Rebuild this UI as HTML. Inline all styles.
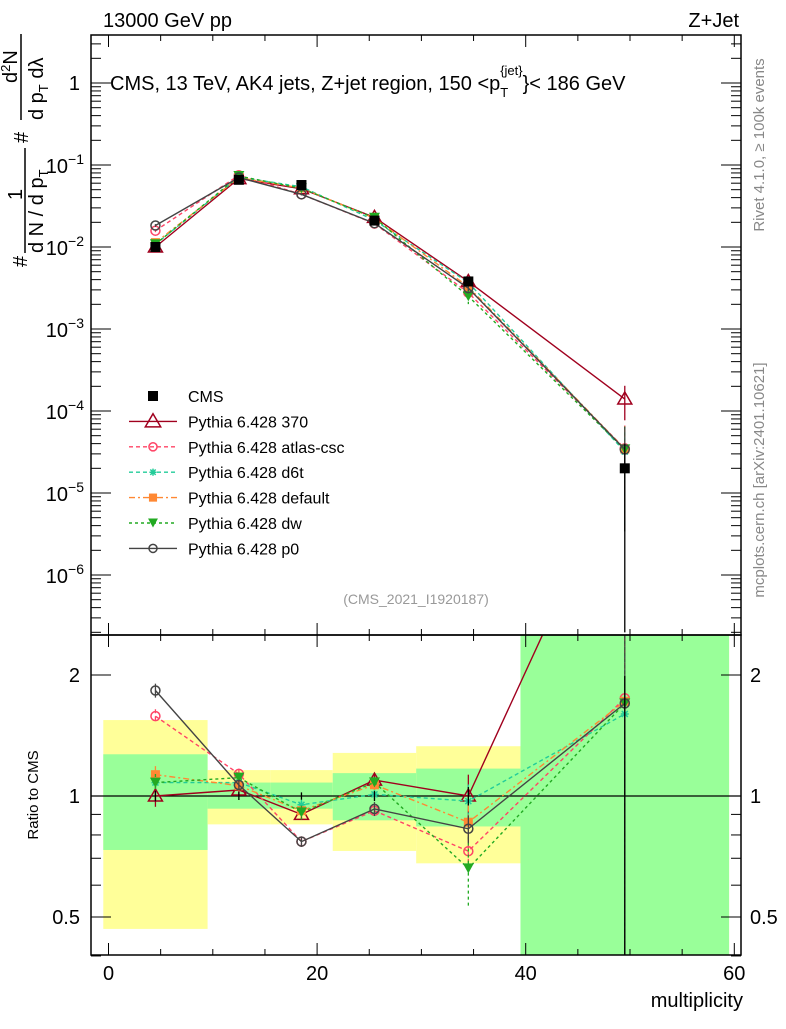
<!DOCTYPE html>
<html><head><meta charset="utf-8"><style>
html,body{margin:0;padding:0;background:#fff;}
svg text{font-family:"Liberation Sans",sans-serif;}
</style></head><body>
<svg id="chart" width="786" height="1024" viewBox="0 0 786 1024" xmlns="http://www.w3.org/2000/svg">
<rect width="786" height="1024" fill="#fff"/>
<g id="bands"></g><g id="grid"></g><g id="series"></g><g id="frames"></g><g id="labels"></g>
</svg>
<script>
const binEdges=[-0.5,9.5,15.5,21.5,29.5,39.5,59.5];
const xCenters=[4.5,12.5,18.5,25.5,34.5,49.5];
const cmsValues=[0.0100,0.066,0.057,0.021,0.0038,2.0e-5];
const cmsErrors=[0.0003,0.0015,0.0012,0.0006,0.0002,1.98e-5];
const band1Hi=[1.27,1.08,1.08,1.14,1.17,3];
const band1Lo=[0.734,0.93,0.93,0.87,0.84,0.3];
const band2Hi=[1.545,1.16,1.16,1.28,1.33,3];
const band2Lo=[0.467,0.85,0.85,0.73,0.68,0.3];
const vals370=[0.0100,0.0683,0.0513,0.0230,0.0038,1.4e-4];
const valsAtlas=[0.0158,0.0749,0.0439,0.0193,0.00277,3.5e-5];
const valsD6t=[0.0108,0.0713,0.0542,0.0212,0.00369,3.2e-5];
const valsDefault=[0.0113,0.070,0.0524,0.0224,0.00327,3.44e-5];
const valsDw=[0.0108,0.0733,0.0519,0.0227,0.00251,3.4e-5];
const valsP0=[0.0183,0.0703,0.0439,0.0195,0.00315,3.4e-5];
const relErr370=[0.06,0.03,0.03,0.04,0.13,0.45];
const relErrAtlas=[0.04,0.03,0.03,0.03,0.08,0.9];
const relErrD6t=[0.04,0.03,0.03,0.03,0.1,0.9];
const relErrDefault=[0.05,0.03,0.03,0.03,0.1,0.9];
const relErrDw=[0.05,0.03,0.04,0.03,0.2,0.9];
const relErrP0=[0.04,0.03,0.03,0.04,0.08,0.9];
const xTicks=[0,20,40,60];
const mainTickExp=[0,-1,-2,-3,-4,-5,-6];
const ratioTicks=[2,1,0.5];
const ratioTickLabels=["2","1","0.5"];

const NS="http://www.w3.org/2000/svg";
const L=91,R=741,T=35,MB=635,RB=955;
const X=v=>108.5+v*10.43;
const Y=v=>83-82*Math.log10(v);
const YR=r=>796-121*Math.log2(r);
function mk(tag,attrs,parent,txt){const e=document.createElementNS(NS,tag);for(const k in attrs)e.setAttribute(k,attrs[k]);if(txt!==undefined)e.textContent=txt;document.getElementById(parent).appendChild(e);return e;}
const clampM=y=>Math.max(T,Math.min(MB,y));
const clampR=y=>Math.max(MB,Math.min(RB,y));

for(let i=0;i<6;i++){
  let r=mk('rect',{x:X(binEdges[i]),y:clampR(YR(band2Hi[i])),width:X(binEdges[i+1])-X(binEdges[i]),height:clampR(YR(band2Lo[i]))-clampR(YR(band2Hi[i])),fill:'#ffff99'},'bands');
  
  
  let g=mk('rect',{x:X(binEdges[i]),y:clampR(YR(band1Hi[i])),width:X(binEdges[i+1])-X(binEdges[i]),height:clampR(YR(band1Lo[i]))-clampR(YR(band1Hi[i])),fill:'#99ff99'},'bands');
  
  
}
mk('line',{x1:L,x2:R,y1:YR(1),y2:YR(1),stroke:'#000','stroke-width':1.3},'grid');

const series=[
 {name:'pythia-370',vals:vals370,err:relErr370,color:'#a0001e',dash:'',marker:'tri-open'},
 {name:'pythia-atlas-csc',vals:valsAtlas,err:relErrAtlas,color:'#ff4466',dash:'4,3',marker:'circ-open'},
 {name:'pythia-d6t',vals:valsD6t,err:relErrD6t,color:'#22cc99',dash:'4,3',marker:'star'},
 {name:'pythia-default',vals:valsDefault,err:relErrDefault,color:'#ff8833',dash:'6,3,2,3',marker:'square'},
 {name:'pythia-dw',vals:valsDw,err:relErrDw,color:'#22aa22',dash:'3,3',marker:'tri-down'},
 {name:'pythia-p0',vals:valsP0,err:relErrP0,color:'#444444',dash:'',marker:'circ-open'}
];
function marker(type,x,y,c,parent,s){
  s=s||1;let e;
  if(type==='tri-open')e=mk('path',{d:`M${x},${y-7*s}L${x+7*s},${y+5*s}L${x-7*s},${y+5*s}Z`,fill:'none',stroke:c,'stroke-width':1.5},parent);
  else if(type==='circ-open')e=mk('circle',{cx:x,cy:y,r:4.5*s,fill:'none',stroke:c,'stroke-width':1.5},parent);
  else if(type==='square')e=mk('rect',{x:x-4.5*s,y:y-4.5*s,width:9*s,height:9*s,fill:c},parent);
  else if(type==='tri-down')e=mk('path',{d:`M${x-5.5*s},${y-5*s}L${x+5.5*s},${y-5*s}L${x},${y+5*s}Z`,fill:c},parent);
  else if(type==='star')e=mk('path',{d:`M${x-4*s},${y}H${x+4*s}M${x},${y-4*s}V${y+4*s}M${x-3*s},${y-3*s}L${x+3*s},${y+3*s}M${x-3*s},${y+3*s}L${x+3*s},${y-3*s}`,stroke:c,'stroke-width':1.5},parent);
  return e;
}
series.forEach(s=>{
  const pm=s.vals.map((v,i)=>[X(xCenters[i]),Y(v)]);
  let p=mk('polyline',{points:pm.map(q=>q.join(',')).join(' '),fill:'none',stroke:s.color,'stroke-width':1.4,'stroke-dasharray':s.dash,'clip-path':'url(#clipMain)'},'series');
  
  
  const pr=s.vals.map((v,i)=>[X(xCenters[i]),YR(v/cmsValues[i])]);
  let p2=mk('polyline',{points:pr.map(q=>q.join(',')).join(' '),fill:'none',stroke:s.color,'stroke-width':1.4,'stroke-dasharray':s.dash,'clip-path':'url(#clipRatio)'},'series');
  
  
  s.vals.forEach((v,i)=>{
    const x=X(xCenters[i]);const e=s.err[i];
    const r=v/cmsValues[i];
    mk('line',{x1:x,x2:x,y1:clampM(Y(v*(1+e))),y2:clampM(Y(Math.max(v*(1-e),1e-9))),stroke:s.color,'stroke-width':1.3,'stroke-dasharray':s.dash},'series');
    mk('line',{x1:x,x2:x,y1:clampR(YR(r*(1+e))),y2:clampR(YR(Math.max(r*(1-e),1e-9))),stroke:s.color,'stroke-width':1.3,'stroke-dasharray':s.dash},'series');
    let m=marker(s.marker,x,Y(v),s.color,'series');
    
    
    if(YR(r)>MB){let m2=marker(s.marker,x,YR(r),s.color,'series');
    
    }
  });
});
cmsValues.forEach((v,i)=>{
  const x=X(xCenters[i]);
  mk('line',{x1:x,x2:x,y1:clampM(Y(v+cmsErrors[i])),y2:clampM(Y(Math.max(v-cmsErrors[i],1e-12))),stroke:'#000','stroke-width':1.3},'series');
  const rl=(v-cmsErrors[i])/v, rh=(v+cmsErrors[i])/v;
  mk('line',{x1:x,x2:x,y1:clampR(YR(rh)),y2:clampR(YR(Math.max(rl,1e-9))),stroke:'#000','stroke-width':1.3},'series');
  let m=mk('rect',{x:x-5,y:Y(v)-5,width:10,height:10,fill:'#000'},'series');
  
  
});
const defs=document.createElementNS(NS,'defs');
defs.innerHTML=`<clipPath id="clipMain"><rect x="${L}" y="${T}" width="${R-L}" height="${MB-T}"/></clipPath><clipPath id="clipRatio"><rect x="${L}" y="${MB}" width="${R-L}" height="${RB-MB}"/></clipPath>`;
document.getElementById('chart').prepend(defs);

let f1=mk('rect',{x:L,y:T,width:R-L,height:MB-T,fill:'none',stroke:'#000','stroke-width':1.5},'frames');


let f2=mk('rect',{x:L,y:MB,width:R-L,height:RB-MB,fill:'none',stroke:'#000','stroke-width':1.5},'frames');


for(let v=0;v<=60;v+=5){
  const len=(v%20===0)?12:6;const x=X(v);
  [[T,1],[MB,-1],[MB,1],[RB,-1]].forEach(([y0,d])=>mk('line',{x1:x,x2:x,y1:y0,y2:y0+d*len,stroke:'#000','stroke-width':1},'frames'));
}
for(let e=1;e>=-7;e--){
  for(let k=1;k<10;k++){
    const v=k*Math.pow(10,e);const y=Y(v);if(y<T||y>MB)continue;
    const len=k===1?20:10;
    mk('line',{x1:L,x2:L+len,y1:y,y2:y,stroke:'#000','stroke-width':1},'frames');
    mk('line',{x1:R,x2:R-len,y1:y,y2:y,stroke:'#000','stroke-width':1},'frames');
  }
}
[0.4,0.5,0.6,0.7,0.8,0.9,1,2].forEach(v=>{const y=YR(v);const len=(v===1||v===2||v===0.5)?20:10;
 mk('line',{x1:L,x2:L+len,y1:y,y2:y,stroke:'#000','stroke-width':1},'frames');
 mk('line',{x1:R,x2:R-len,y1:y,y2:y,stroke:'#000','stroke-width':1},'frames');});

xTicks.forEach(v=>{let t=mk('text',{x:X(v),y:980,'font-size':20,'text-anchor':'middle'},'labels',String(v));
 });
mainTickExp.forEach(e=>{const y=Y(Math.pow(10,e));
 let t;
 if(e===0)t=mk('text',{x:80,y:y+7,'font-size':20,'text-anchor':'end'},'labels','1');
 else{t=mk('text',{x:84,y:y+8,'font-size':20,'text-anchor':'end'},'labels');
  t.innerHTML=`10<tspan dy="-9" font-size="14">${e===-1?'\u22121':'\u2212'+(-e)}</tspan>`;}
 });
ratioTicks.forEach((v,i)=>{const y=YR(v)+7;
 let t=mk('text',{x:80,y:y,'font-size':20,'text-anchor':'end'},'labels',ratioTickLabels[i]);
 
 let t2=mk('text',{x:750,y:y,'font-size':20},'labels',ratioTickLabels[i]);
 });

const legendNames=['CMS','Pythia 6.428 370','Pythia 6.428 atlas-csc','Pythia 6.428 d6t','Pythia 6.428 default','Pythia 6.428 dw','Pythia 6.428 p0'];
legendNames.forEach((n,i)=>{const y=396+i*25.4;
  if(i===0){let m=mk('rect',{x:148,y:y-5,width:10,height:10,fill:'#000'},'labels');}
  else{const s=series[i-1];
    mk('line',{x1:129,x2:177,y1:y,y2:y,stroke:s.color,'stroke-width':1.4,'stroke-dasharray':s.dash},'labels');
    let m=marker(s.marker,153,y,s.color,'labels',i===1?1.1:0.9);
    }
  let t=mk('text',{x:188,y:y+6,'font-size':16},'labels',n);
  
});
</script>
<svg style="position:absolute;left:0;top:0" width="786" height="1024">
<text x="103" y="27" font-size="20" font-family="Liberation Sans,sans-serif">13000 GeV pp</text>
<text x="739" y="27" font-size="20" text-anchor="end" font-family="Liberation Sans,sans-serif">Z+Jet</text>
<text x="110" y="90" font-size="20" font-family="Liberation Sans,sans-serif">CMS, 13 TeV, AK4 jets, Z+jet region, 150 &lt;p<tspan dy="7" font-size="13">T</tspan><tspan dx="-8" dy="-22" font-size="13">{jet}</tspan><tspan dy="15">}&lt; 186 GeV</tspan></text>
<text x="416" y="604" font-size="14" fill="#999" text-anchor="middle" font-family="Liberation Sans,sans-serif">(CMS_2021_I1920187)</text>
<text x="743" y="1007" font-size="20" text-anchor="end" font-family="Liberation Sans,sans-serif">multiplicity</text>
<text transform="translate(38,795) rotate(-90)" font-size="15" text-anchor="middle" font-family="Liberation Sans,sans-serif">Ratio to CMS</text>
<text transform="translate(764,145) rotate(-90)" font-size="15" fill="#888" text-anchor="middle" font-family="Liberation Sans,sans-serif">Rivet 4.1.0, ≥ 100k events</text>
<text transform="translate(764,480) rotate(-90)" font-size="15" fill="#888" text-anchor="middle" font-family="Liberation Sans,sans-serif">mcplots.cern.ch [arXiv:2401.10621]</text>
<g transform="translate(0,270) rotate(-90)" font-family="Liberation Sans,sans-serif" font-size="20">
<text x="3" y="27">#</text>
<text x="70" y="22">1</text>
<line x1="17" y1="25" x2="122" y2="25" stroke="#000" stroke-width="1.5"/>
<text x="17" y="43">d N / d p<tspan font-size="13" dy="5">T</tspan></text>
<text x="127" y="28">#</text>
<text x="187" y="17">d<tspan font-size="13" dy="-7">2</tspan><tspan dy="7">N</tspan></text>
<line x1="150" y1="21" x2="236" y2="21" stroke="#000" stroke-width="1.5"/>
<text x="150" y="43">d p<tspan font-size="13" dy="5">T</tspan><tspan dy="-5"> dλ</tspan></text>
</g>
</svg>
</body></html>
